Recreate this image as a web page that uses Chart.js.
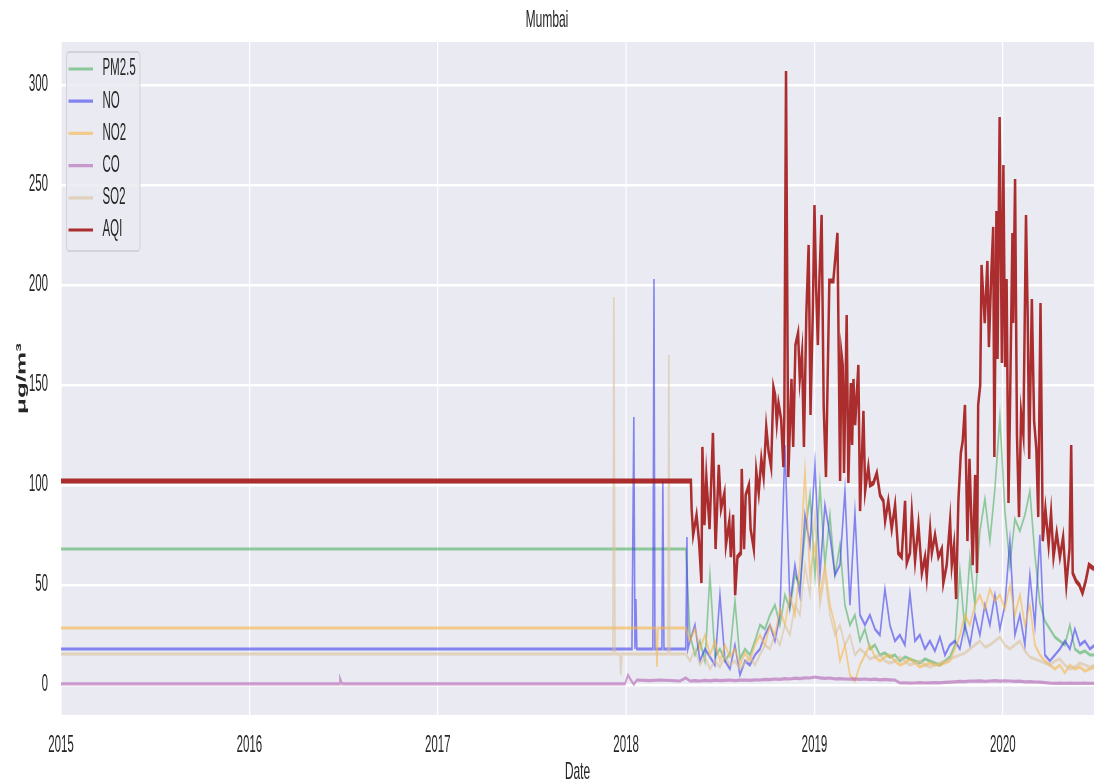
<!doctype html>
<html lang="en">
<head>
<meta charset="utf-8">
<title>Mumbai</title>
<style>
  * { margin: 0; padding: 0; }
  body { width: 1094px; height: 783px; overflow: hidden; background: #fff; }
  /* the reference figure is stretched 2x vertically, so draw at half height and stretch */
  .stretch { width: 1094px; height: 392px; transform: scaleY(2); transform-origin: 0 0; }
</style>
</head>
<body>
<div class="stretch"><canvas id="chart" width="1094" height="392"></canvas></div>
<script src="https://cdn.jsdelivr.net/npm/chart.js/dist/chart.umd.min.js"></script>
<script>
// labels
const cityName = 'Mumbai';
const seriesNames = ['PM2.5', 'NO', 'NO2', 'CO', 'SO2', 'AQI'];
const yearTicks = [2015, 2016, 2017, 2018, 2019, 2020];

// early part (mostly filled values) : decimal years / values
const pm25EarlyYears = [2015, 2018.317];
const pm25Early = [68, 68];
const noEarlyYears = [2015, 2018.031, 2018.041, 2018.047, 2018.052, 2018.057, 2018.142, 2018.148, 2018.153,
  2018.190, 2018.195, 2018.201, 2018.317, 2018.323, 2018.328];
const noEarly = [18, 18, 134, 18, 43, 18, 18, 203, 18, 18, 102, 18, 18, 74, 18];
const no2EarlyYears = [2015, 2018.158, 2018.164, 2018.169, 2018.317];
const no2Early = [28.5, 28.5, 9, 28.5, 28.5];
const coEarlyYears = [2015, 2016.476, 2016.481, 2016.492, 2017.994, 2018.010, 2018.025, 2018.041, 2018.057,
  2018.126, 2018.179, 2018.286, 2018.317];
const coEarly = [0.6, 0.6, 3.5, 0.6, 0.6, 5, 2.5, 0.3, 2.5, 2.2, 2.5, 2.0, 3.5];
const so2EarlyYears = [2015, 2017.930, 2017.935, 2017.941, 2017.967, 2017.972, 2017.978, 2018.222, 2018.227,
  2018.232, 2018.317];
const so2Early = [15.5, 15.5, 194, 15.5, 15.5, 5, 15.5, 15.5, 165, 15.5, 15.5];

// measured part, one reading about every 9.7 days from May 2018
const sampleStart = 2018.339;
const sampleStep = 0.026539;
const pm25 = [
  25, 15, 22, 12, 55, 14, 18, 12, 16, 42,
  13, 18, 15, 22, 30, 28, 35, 40, 30, 45,
  38, 55, 50, 75, 95, 55, 100, 60, 85, 55,
  70, 40, 30, 35, 22, 28, 18, 20, 15, 16,
  14, 15, 12, 14, 13, 12, 11, 13, 12, 11,
  10, 12, 14, 20, 57, 27, 64, 40, 77, 93,
  72, 98, 134, 87, 60, 83, 77, 85, 97, 65,
  41, 32, 28, 24, 22, 20, 30, 18, 16, 17,
  15, 15];
const no = [
  22, 30, 12, 18, 14, 10, 45, 12, 8, 20,
  5, 12, 10, 15, 18, 25, 30, 22, 35, 120,
  40, 60, 45, 85, 70, 110, 55, 90, 75, 55,
  60, 97, 40, 86, 35, 30, 35, 28, 25, 48,
  30, 22, 25, 20, 46, 22, 25, 18, 22, 17,
  24, 15, 20, 22, 18, 30, 20, 35, 25, 40,
  30, 45, 28, 40, 72, 25, 35, 20, 55, 30,
  75, 15, 12, 15, 18, 22, 18, 28, 20, 22,
  18, 20];
const no2 = [
  22, 28, 18, 25, 15, 22, 12, 20, 14, 18,
  10, 16, 12, 20, 25, 20, 30, 25, 38, 30,
  45, 35, 60, 107, 55, 70, 45, 60, 40, 30,
  12, 20, 5, 2, 10, 15, 20, 14, 12, 14,
  15, 12, 10, 11, 13, 11, 9, 10, 11, 10,
  10, 11, 12, 18, 25, 35, 30, 40, 45, 38,
  48, 42, 45, 38, 50, 35, 45, 30, 40, 20,
  15, 12, 10, 8, 10, 6, 10, 8, 9, 7,
  8, 9];
const co = [
  2.0, 2.2, 2.0, 2.3, 2.1, 2.4, 2.2, 2.3, 2.5, 2.2,
  2.4, 2.5, 2.3, 2.6, 2.5, 2.8, 2.7, 3.0, 2.8, 3.2,
  3.0, 3.4, 3.2, 3.6, 3.5, 4.0, 3.6, 3.3, 3.5, 3.1,
  3.2, 3.0, 2.9, 3.1, 2.8, 3.0, 2.7, 2.9, 2.6, 2.8,
  2.6, 2.5, 1.0, 1.1, 0.9, 1.0, 1.2, 1.0, 1.1, 1.2,
  1.1, 1.3, 1.4, 1.6, 1.8, 1.7, 2.0, 1.9, 2.1, 1.8,
  2.0, 2.2, 1.9, 2.1, 2.0, 1.8, 1.9, 1.6, 1.7, 1.5,
  1.4, 1.2, 0.9, 0.8, 0.9, 0.8, 0.9, 0.8, 0.8, 0.9,
  0.8, 0.8];
const so2 = [
  12, 18, 10, 14, 8, 12, 9, 14, 10, 12,
  8, 11, 14, 10, 15, 20, 18, 25, 20, 30,
  25, 40, 35, 60, 45, 85, 40, 55, 35, 25,
  30, 20, 25, 15, 18, 16, 13, 14, 15, 12,
  11, 12, 14, 12, 10, 11, 12, 10, 9, 10,
  11, 12, 13, 14, 15, 16, 18, 20, 22, 19,
  20, 22, 24, 20, 18, 20, 22, 17, 14, 13,
  12, 11, 10, 12, 13, 10, 8, 9, 11, 10,
  9, 10];

// AQI, read more densely
const aqiYears = [
  2015, 2018.344, 2018.348, 2018.356, 2018.374, 2018.387, 2018.400, 2018.405, 2018.416, 2018.426, 2018.443, 2018.461,
  2018.475, 2018.492, 2018.504, 2018.522, 2018.530, 2018.548, 2018.556, 2018.568, 2018.579, 2018.591,
  2018.609, 2018.614, 2018.626, 2018.635, 2018.652, 2018.661, 2018.678, 2018.691, 2018.704, 2018.718,
  2018.730, 2018.744, 2018.756, 2018.770, 2018.782, 2018.791, 2018.800, 2018.809, 2018.823, 2018.835,
  2018.840, 2018.849, 2018.861, 2018.878, 2018.887, 2018.899, 2018.913, 2018.922, 2018.934, 2018.944,
  2018.957, 2018.969, 2018.979, 2018.992, 2019.000, 2019.009, 2019.018, 2019.026, 2019.038, 2019.049,
  2019.061, 2019.079,
  2019.100, 2019.122, 2019.136, 2019.143, 2019.150, 2019.157, 2019.171, 2019.180, 2019.193, 2019.200,
  2019.207, 2019.216, 2019.233, 2019.242, 2019.260, 2019.269, 2019.286, 2019.295, 2019.313, 2019.331,
  2019.348, 2019.366, 2019.375, 2019.392, 2019.410, 2019.428, 2019.445, 2019.463, 2019.481, 2019.490,
  2019.507, 2019.517, 2019.534, 2019.552, 2019.570, 2019.587, 2019.596, 2019.614, 2019.623, 2019.640,
  2019.658, 2019.676, 2019.684, 2019.702, 2019.720, 2019.729, 2019.741, 2019.752, 2019.764, 2019.777,
  2019.787, 2019.799,
  2019.812, 2019.823, 2019.840, 2019.853, 2019.863, 2019.869, 2019.880, 2019.887, 2019.904, 2019.918,
  2019.926, 2019.938, 2019.949, 2019.955, 2019.966, 2019.972, 2019.983, 2019.995, 2020.003, 2020.012,
  2020.020, 2020.030, 2020.037, 2020.051, 2020.055, 2020.065, 2020.075, 2020.086, 2020.097, 2020.109,
  2020.123, 2020.132, 2020.140, 2020.154, 2020.166, 2020.178, 2020.188, 2020.200, 2020.212, 2020.226,
  2020.243, 2020.256, 2020.269, 2020.286, 2020.303, 2020.320, 2020.337, 2020.354, 2020.363, 2020.371,
  2020.389, 2020.406, 2020.423, 2020.440, 2020.457, 2020.484];
const aqi = [
  102, 102, 88, 75, 85, 72, 51, 119, 80, 104, 78, 126,
  68, 110, 88, 96, 70, 82, 64, 85, 45, 64,
  66, 108, 68, 95, 100, 78, 68, 107, 96, 113,
  104, 129, 117, 109, 149, 145, 131, 141, 133, 109,
  135, 307, 104, 153, 119, 170, 176, 153, 166, 119,
  186, 220, 135, 190, 240, 198, 170, 202, 235, 139,
  104, 202,
  202, 226, 102, 166, 160, 106, 185, 101, 151, 120,
  153, 130, 160, 87, 137, 97, 109, 100, 101, 106,
  95, 92, 82, 92, 78, 90, 66, 64, 92, 61,
  66, 86, 62, 80, 56, 64, 54, 78, 66, 75,
  64, 68, 51, 60, 82, 60, 70, 43, 92, 116,
  122, 140,
  72, 113, 60, 105, 56, 140, 150, 210, 181, 212,
  169, 204, 229, 114, 237, 163, 284, 161, 260, 159,
  203, 91, 132, 226, 181, 253, 125, 84, 136, 125,
  235, 184, 113, 193, 132, 118, 84, 191, 72, 88,
  70, 86, 64, 76, 64, 74, 50, 68, 120, 56,
  52, 50, 46, 52, 60, 58];

const sampleYears = pm25.map((_, i) => sampleStart + i * sampleStep);

function points(years, values) {
  return values.map((v, i) => ({ x: years[i], y: v }));
}
function series(earlyYears, early, values) {
  return points(earlyYears, early).concat(points(sampleYears, values));
}

const colors = ['rgba(77,176,95,0.6)', 'rgba(61,61,239,0.6)', 'rgba(247,182,69,0.6)',
  'rgba(177,97,179,0.6)', 'rgba(217,194,152,0.6)', 'rgba(165,28,28,0.92)'];
const dataRows = [
  series(pm25EarlyYears, pm25Early, pm25),
  series(noEarlyYears, noEarly, no),
  series(no2EarlyYears, no2Early, no2),
  series(coEarlyYears, coEarly, co),
  series(so2EarlyYears, so2Early, so2),
  points(aqiYears, aqi)
];

const textColor = '#262626';
Chart.defaults.font.family = "'Liberation Sans', Arial, sans-serif";
Chart.defaults.color = textColor;

// seaborn darkgrid background
const plotBg = {
  id: 'plotBg',
  beforeDraw(chart) {
    const { ctx, chartArea: { left, top, width, height } } = chart;
    ctx.save();
    ctx.fillStyle = '#eaeaf2';
    ctx.fillRect(left, top, width, height);
    ctx.restore();
  }
};

// boxed legend in the upper-left corner
const boxLegend = {
  id: 'boxLegend',
  afterDraw(chart) {
    const { ctx, chartArea } = chart;
    const x0 = chartArea.left + 5.5, y0 = chartArea.top + 5;
    const w = 73.5, h = 99.5, row = 16.1;
    ctx.save();
    ctx.fillStyle = 'rgba(234,234,242,0.85)';
    ctx.strokeStyle = '#d2d2d8';
    ctx.lineWidth = 1;
    ctx.beginPath();
    ctx.roundRect(x0, y0, w, h, 2.5);
    ctx.fill();
    ctx.stroke();
    ctx.font = "11.5px 'Liberation Sans', Arial, sans-serif";
    ctx.textBaseline = 'middle';
    chart.data.datasets.forEach((ds, i) => {
      const y = y0 + 8.5 + i * row;
      ctx.strokeStyle = ds.borderColor;
      ctx.lineWidth = 1.6;
      ctx.beginPath();
      ctx.moveTo(x0 + 2, y);
      ctx.lineTo(x0 + 26.5, y);
      ctx.stroke();
      ctx.fillStyle = textColor;
      ctx.fillText(ds.label, x0 + 36, y);
    });
    ctx.restore();
  }
};

new Chart(document.getElementById('chart'), {
  type: 'line',
  data: {
    datasets: seriesNames.map((name, i) => ({
      label: name,
      data: dataRows[i],
      borderColor: colors[i],
      backgroundColor: colors[i],
      borderWidth: name === 'AQI' ? 2.5 : 1.6,
      pointRadius: 0,
      tension: 0,
      order: seriesNames.length - i
    }))
  },
  options: {
    responsive: false,
    devicePixelRatio: 2,
    animation: false,
    parsing: false,
    layout: { padding: 0 },
    plugins: {
      legend: { display: false },
      tooltip: { enabled: false },
      title: {
        display: true,
        text: cityName,
        color: textColor,
        font: { size: 12, weight: 'normal' },
        padding: { top: 3, bottom: 3.6 }
      }
    },
    scales: {
      x: {
        type: 'linear',
        min: yearTicks[0],
        max: 2020.484,
        afterFit(s) { s.height = 34.5; },
        afterBuildTicks(s) { s.ticks = yearTicks.map(v => ({ value: v })); },
        grid: { color: '#ffffff', lineWidth: 1.2, drawTicks: false },
        border: { display: false },
        ticks: {
          stepSize: 1,
          includeBounds: false,
          autoSkip: false,
          maxRotation: 0,
          padding: 8.5,
          color: textColor,
          font: { size: 11.5 },
          callback: v => String(v)
        },
        title: {
          display: true,
          text: 'Date',
          color: textColor,
          font: { size: 12 },
          padding: { top: 0, bottom: -1.2 }
        }
      },
      y: {
        min: -15,
        max: 321.5,
        afterFit(s) { s.width = 61; },
        grid: { color: '#ffffff', lineWidth: 1.2, drawTicks: false },
        border: { display: false },
        ticks: {
          stepSize: 50,
          includeBounds: false,
          padding: 13,
          color: textColor,
          font: { size: 11.5 }
        },
        title: {
          display: true,
          text: 'μg/m³',
          color: textColor,
          font: { size: 13, weight: 'bold' },
          padding: { top: 14, bottom: 0 }
        }
      }
    }
  },
  plugins: [plotBg, boxLegend]
});
</script>
</body>
</html>
